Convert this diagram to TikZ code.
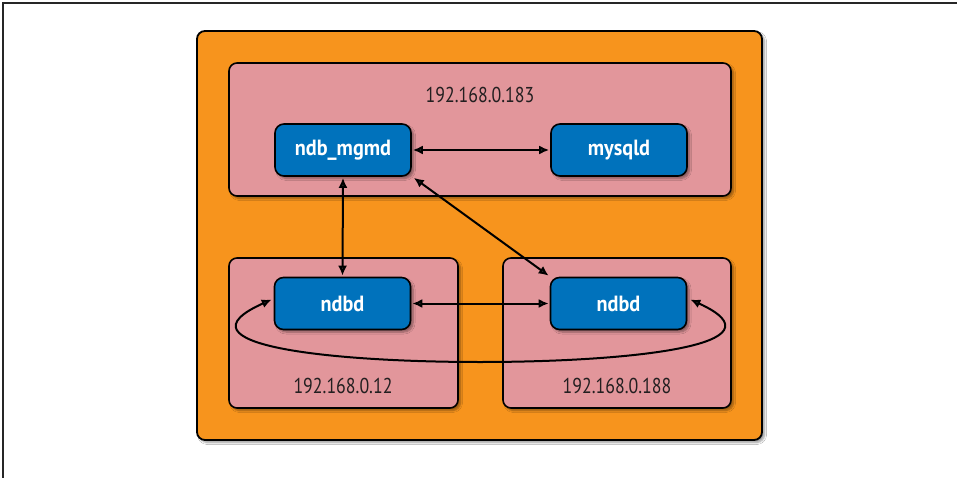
\documentclass[tikz,border=0pt]{standalone}
\usepackage{fontspec}
\setmainfont{PT Sans}
\newfontfamily\condfont{PT Sans}[FakeStretch=0.83]
\newfontfamily\condbold{PT Sans Bold}[FakeStretch=0.92]
\usetikzlibrary{arrows.meta,shadows.blur,calc}
\definecolor{orangebg}{RGB}{247,148,29}
\definecolor{pinkbg}{RGB}{226,150,155}
\definecolor{bluebg}{RGB}{0,114,188}
\definecolor{iptext}{RGB}{35,31,32}
\tikzset{
  outerbox/.style={draw=black, line width=1.8pt, fill=orangebg, rounded corners=8pt,
    blur shadow={shadow xshift=2.5pt, shadow yshift=-2.5pt, shadow blur steps=6, shadow opacity=40}},
  hostbox/.style={draw=black, line width=1.6pt, fill=pinkbg, rounded corners=8pt,
    blur shadow={shadow xshift=2.5pt, shadow yshift=-2.5pt, shadow blur steps=6, shadow opacity=40}},
  procbox/.style={draw=black, line width=1.6pt, fill=bluebg, rounded corners=9pt,
    text=white, font=\fontsize{22}{25}\condbold,
    minimum width=136pt, minimum height=52pt, inner sep=0pt,
    blur shadow={shadow xshift=2.5pt, shadow yshift=-2.5pt, shadow blur steps=6, shadow opacity=40}},
  iplabel/.style={text=iptext, font=\fontsize{21.5}{24}\condfont, inner sep=0pt},
  link/.style={line width=2pt, {Latex[length=10pt,width=9pt]}-{Latex[length=10pt,width=9pt]}},
}
\begin{document}
\begin{tikzpicture}[x=1pt,y=-1pt]
\useasboundingbox (0,0) rectangle (957,478);
\fill[white] (0,0) rectangle (957,478);
\coordinate (fbl) at (3,478);
\coordinate (ftl) at (3,3);
\coordinate (ftr) at (957,3);
\draw[black!85, line width=1.5pt] (fbl) -- (ftl) -- (ftr);

\draw[outerbox] (197,31) rectangle (762,440);
\draw[hostbox] (229,63) rectangle (731,196);
\draw[hostbox] (229,258) rectangle (458,408);
\draw[hostbox] (503,258) rectangle (731,408);

\node[iplabel] (ip1) at (480,95) {192.168.0.183};
\node[iplabel] (ip2) at (343,386) {192.168.0.12};
\node[iplabel] (ip3) at (617,386) {192.168.0.188};

\node[procbox] (mgmd) at (343,150) {ndb\_mgmd};
\node[procbox] (mysqld) at (619,150) {mysqld};
\node[procbox] (ndbdL) at (342.5,303.5) {ndbd};
\node[procbox] (ndbdR) at (618.5,303.5) {ndbd};

\draw[link] ([xshift=1pt]mgmd.east) -- ([xshift=-1pt]mysqld.west);
\draw[link] ([yshift=-1pt]mgmd.south) -- ([yshift=1pt]ndbdL.north);
\draw[link] ($(mgmd.south east)+(2,1)$) -- ($(ndbdR.north west)+(-1,-1)$);
\draw[link] ([xshift=1pt]ndbdL.east) -- ([xshift=-1pt]ndbdR.west);
\coordinate (cb) at (480,362);
\draw[link] ($(ndbdL.west)+(-2,-4)$) .. controls (170,345) and (330,362) .. (cb)
  .. controls (630,362) and (790,345) .. ($(ndbdR.east)+(3,-4)$);
\end{tikzpicture}
\end{document}
